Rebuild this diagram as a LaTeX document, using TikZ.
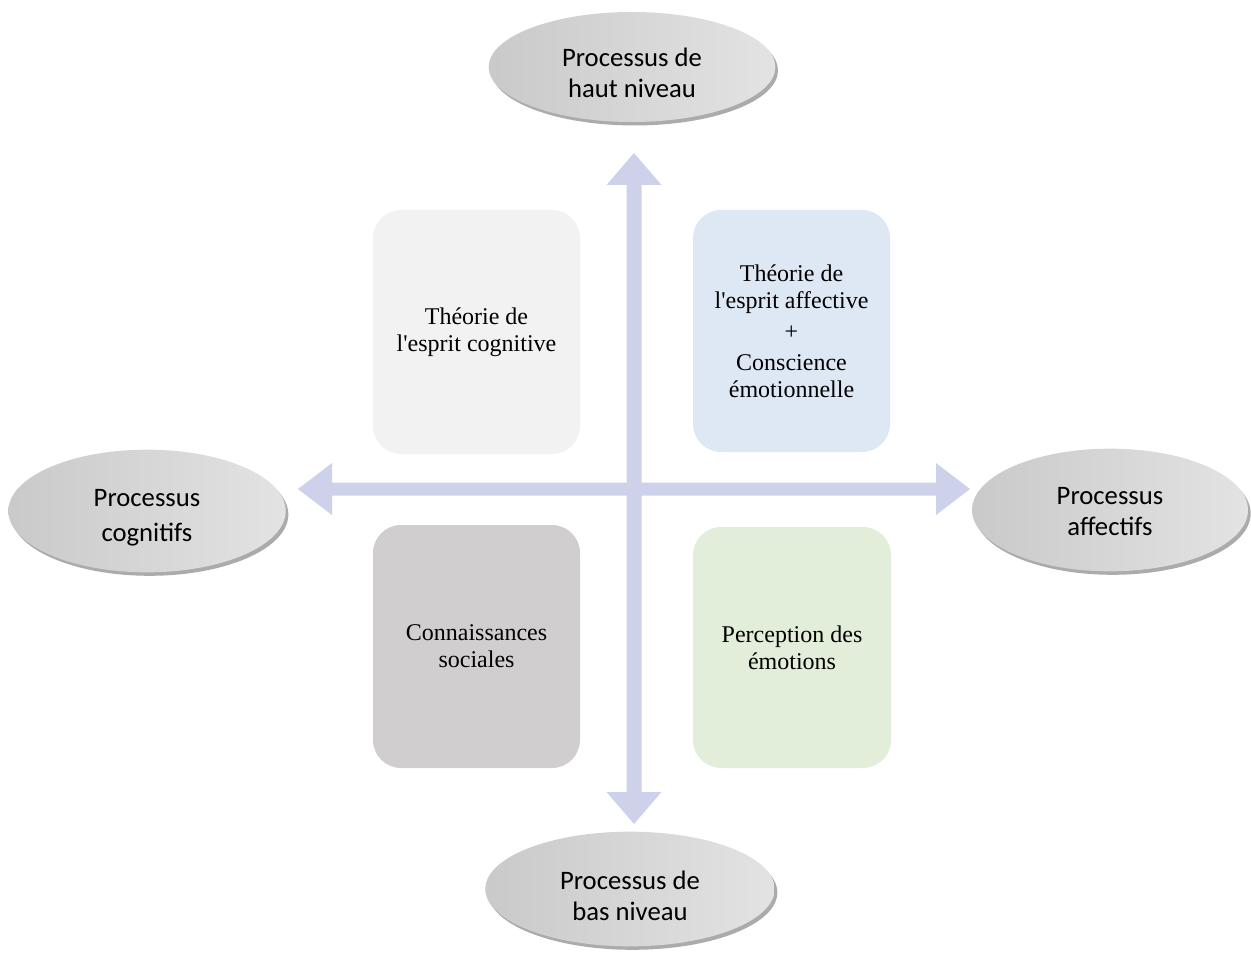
\documentclass[tikz,border=0pt]{standalone}
\usepackage{fontspec}
\setmainfont{Liberation Serif}[Ligatures=TeXOff]
\newfontfamily\ellfont{Carlito}
\usetikzlibrary{shapes.geometric,shadows,calc}

\definecolor{axiscol}{HTML}{CDD1EA}
\definecolor{boxgray}{HTML}{F2F2F2}
\definecolor{boxblue}{HTML}{DEE8F5}
\definecolor{boxdark}{HTML}{D0CECE}
\definecolor{boxgreen}{HTML}{E2EEDA}

\tikzset{
  pole/.style={ellipse, inner sep=0pt, draw=none,
    left color=black!21, middle color=black!7, right color=black!11,
    drop shadow={shadow xshift=2pt, shadow yshift=-2.6pt, fill=black!33, opacity=1}},
  poletext/.style={inner sep=0pt, align=center,
    font=\ellfont\fontsize{20}{23.5}\selectfont},
  quad/.style={rectangle, rounded corners=21pt, draw=none, inner sep=0pt,
    font=\fontsize{18}{20.3}\selectfont, align=center},
  axis/.style={fill=axiscol, draw=none}
}

\begin{document}
\begin{tikzpicture}[x=0.75pt, y=-0.75pt]
\useasboundingbox (0,0) rectangle (1251,955);

% quadrant boxes
\node[quad, fill=boxgray, minimum width=155.25pt, minimum height=183pt] (cogtop) at (476.5,332)
  {Théorie de\\l'esprit cognitive};
\node[quad, fill=boxblue, minimum width=147.75pt, minimum height=181.5pt] (afftop) at (791.5,331)
  {Théorie de\\l'esprit affective\\[3pt]+\\[3pt]Conscience\\émotionnelle};
\node[quad, fill=boxdark, minimum width=155.25pt, minimum height=182.25pt] (cogbot) at (476.5,646.5)
  {Connaissances\\sociales};
\node[quad, fill=boxgreen, minimum width=148.5pt, minimum height=180.75pt] (affbot) at (792,647.5)
  {Perception des\\émotions};

% the two axes as double block arrows
\coordinate (vtop) at (634,153);
\coordinate (vbot) at (634,824);
\coordinate (hl) at (298,489);
\coordinate (hr) at (970,489);

\fill[axis] (vtop) -- ($(vtop)+(27.5,32)$) -- ($(vtop)+(7.5,32)$)
  -- ($(vbot)+(7.5,-32)$) -- ($(vbot)+(27.5,-32)$) -- (vbot)
  -- ($(vbot)+(-27.5,-32)$) -- ($(vbot)+(-7.5,-32)$)
  -- ($(vtop)+(-7.5,32)$) -- ($(vtop)+(-27.5,32)$) -- cycle;

\fill[axis] (hl) -- ($(hl)+(34,-26)$) -- ($(hl)+(34,-6.5)$)
  -- ($(hr)+(-34,-6.5)$) -- ($(hr)+(-34,-26)$) -- (hr)
  -- ($(hr)+(-34,26)$) -- ($(hr)+(-34,6.5)$)
  -- ($(hl)+(34,6.5)$) -- ($(hl)+(34,26)$) -- cycle;

% poles of the axes, each with its label set a little below the centre
\node[pole, minimum width=215pt, minimum height=82.5pt] (high) at (632,67) {};
\node[poletext] (hightext) at ([yshift=-4.5pt]high.center) {Processus de\\haut niveau};

\node[pole, minimum width=208pt, minimum height=92pt] (cogn) at (147,511) {};
\node[poletext] (cogntext) at ([yshift=-5pt]cogn.center) {Processus\\[3pt]cognitifs};

\node[pole, minimum width=207pt, minimum height=92pt] (affe) at (1110,510) {};
\node[poletext] (affetext) at ([yshift=-1pt]affe.center) {Processus\\affectifs};

\node[pole, minimum width=217pt, minimum height=86pt] (low) at (630,889) {};
\node[poletext] (lowtext) at ([yshift=-5pt]low.center) {Processus de\\bas niveau};
\end{tikzpicture}
\end{document}
